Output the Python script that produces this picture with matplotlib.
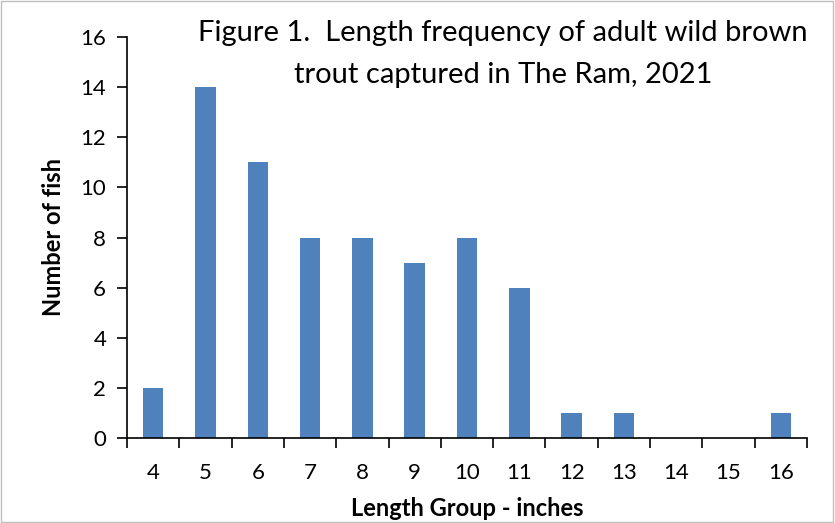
import numpy as np
import matplotlib
matplotlib.use('agg')
import matplotlib.pyplot as plt
from matplotlib.patches import Rectangle

# data
lengths = ['4', '5', '6', '7', '8', '9', '10', '11', '12', '13', '14', '15', '16']
counts = [2, 14, 11, 8, 8, 7, 8, 6, 1, 1, 0, 0, 1]
yticks = [0, 2, 4, 6, 8, 10, 12, 14, 16]

plt.rcParams['font.family'] = ['Lato', 'DejaVu Sans']

fig = plt.figure(figsize=(8.35, 5.23), dpi=100)
ax = fig.add_axes([127/835, 1 - 438/523, (807 - 127)/835, (438 - 37)/523])

x = np.arange(len(lengths))
ax.bar(x, counts, width=0.39, color='#4F81BD', zorder=2)

ax.set_xlim(-0.5, len(lengths) - 0.5)
ax.set_ylim(0, 16)
ax.set_yticks(yticks)
ax.set_yticklabels([str(v) for v in yticks], fontsize=16)

# category labels centred, ticks on the boundaries
ax.set_xticks(np.arange(-0.5, len(lengths)), minor=False)
ax.set_xticklabels([])
ax.set_xticks(x, minor=True)
ax.set_xticklabels(lengths, minor=True, fontsize=16)
ax.tick_params(axis='x', which='major', length=7, width=1.2, direction='out')
ax.tick_params(axis='x', which='minor', length=0, pad=18)
ax.tick_params(axis='y', length=7, width=1.2, direction='out', pad=8)

for s in ['top', 'right']:
    ax.spines[s].set_visible(False)
for s in ['left', 'bottom']:
    ax.spines[s].set_linewidth(1.2)

ax.set_xlabel('Length Group - inches', fontsize=17, fontweight='bold', labelpad=10)
ax.set_ylabel('Number of fish', fontsize=17, fontweight='bold', labelpad=11)

fig.text(503/835, 1 - 33/523, 'Figure 1.  Length frequency of adult wild brown',
         ha='center', va='center', fontsize=21)
fig.text(503/835, 1 - 75/523, 'trout captured in The Ram, 2021',
         ha='center', va='center', fontsize=21)

# thin grey frame around the chart
fig.patches.append(Rectangle((0.001, 0.001), 0.997, 0.997, transform=fig.transFigure,
                             fill=False, edgecolor='#BFBFBF', linewidth=1))

fig.savefig('out.png', dpi=100)
